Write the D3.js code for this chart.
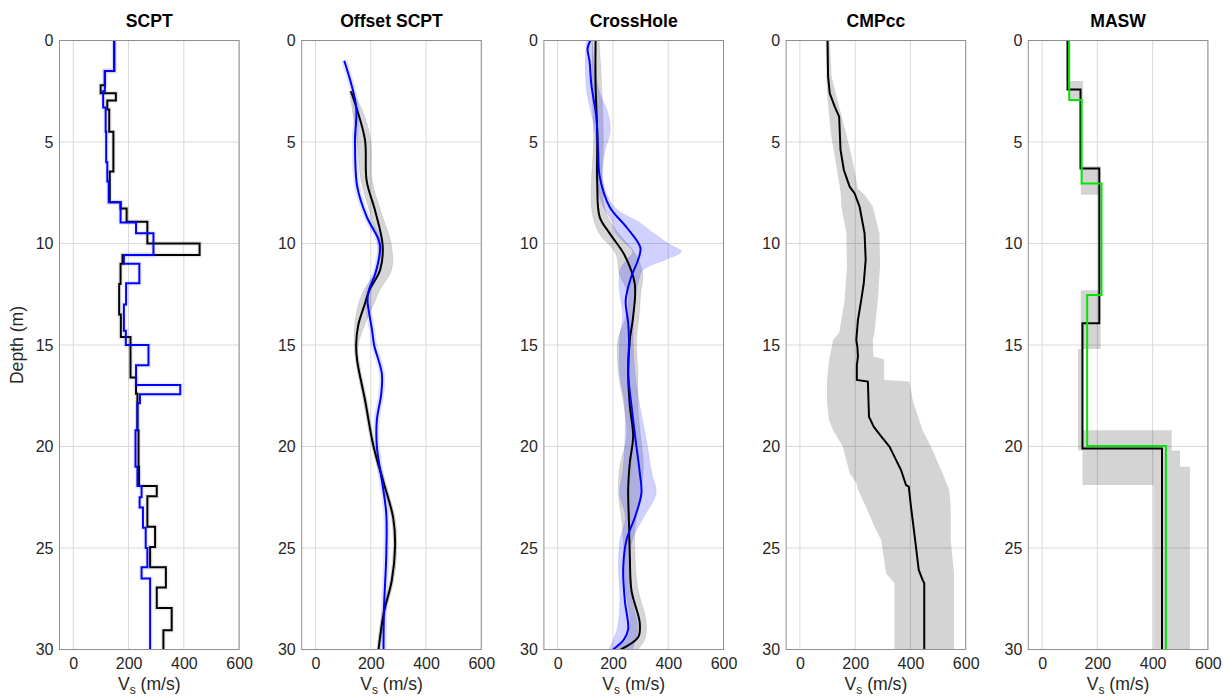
<!DOCTYPE html>
<html><head><meta charset="utf-8">
<script src="https://cdn.jsdelivr.net/npm/d3@7"></script>
<style>
body{margin:0;background:#fff;}
svg{display:block;font-family:"Liberation Sans",Arial,Helvetica,sans-serif;}
</style></head><body>
<svg id="chart" width="1223" height="697"></svg>
<script>
// ---------- axes / labels ----------
const panelTitles = ["SCPT", "Offset SCPT", "CrossHole", "CMPcc", "MASW"];
const xTicks = [0, 200, 400, 600];
const yTicks = [0, 5, 10, 15, 20, 25, 30];
const xDomain = [-50, 600];
const yDomain = [0, 30];
const yLabel = "Depth (m)";

// ---------- SCPT (layered: layer top depth, Vs) ----------
const scptBlackTop = [0, 1.5, 2.2, 2.6, 2.95, 3.4, 4.5, 6.45, 7.97, 8.27, 8.93, 10.0, 10.57, 11.0, 12.0, 13.5, 14.6, 16.6, 17.4, 19.2, 21.0, 21.95, 22.45, 23.95, 24.95, 25.95, 26.95, 27.95, 29.05];
const scptBlackVs  = [148, 114, 99, 154, 123, 130, 145, 132, 171, 193, 268, 457, 178, 171, 166, 172, 207, 227, 232, 236, 238, 302, 268, 296, 278, 335, 302, 356, 326];
const scptBlueTop  = [0, 1.5, 2.5, 3.3, 4.5, 6.0, 6.95, 7.97, 8.97, 9.5, 10.57, 11.0, 11.96, 13.0, 14.3, 15.0, 16.0, 16.97, 17.43, 17.87, 19.2, 21.0, 21.95, 22.5, 23.0, 24.0, 25.0, 25.95, 26.5];
const scptBlueVs   = [148, 114, 108, 117, 119, 123, 128, 171, 227, 290, 183, 239, 191, 183, 190, 272, 227, 387, 241, 232, 225, 232, 247, 240, 252, 262, 268, 247, 278];

// ---------- Offset SCPT (smooth profiles) ----------
const offBlackDepth = [2.5, 3.3, 4.9, 6.9, 8.4, 10.1, 11.3, 12.3, 13.0, 14.0, 15.0, 15.8, 17.7, 20.0, 21.8, 23.5, 24.9, 26.6, 28.2, 30.0];
const offBlackVs    = [128, 148, 179, 185, 216, 243, 234, 195, 178, 155, 147, 151, 179, 210, 247, 281, 288, 276, 247, 228];
const offBlackLo    = [122, 132, 150, 165, 195, 226, 218, 175, 155, 142, 140, 145, 172, 204, 240, 274, 281, 269, 240, 222];
const offBlackHi    = [132, 165, 200, 205, 236, 275, 275, 232, 210, 178, 155, 158, 186, 216, 254, 288, 295, 283, 254, 234];
const offBlueDepth  = [1.0, 3.26, 4.9, 7.2, 8.67, 9.8, 10.2, 11.5, 12.3, 12.8, 13.5, 14.3, 15.0, 16.4, 17.4, 18.7, 20.0, 21.65, 23.3, 25.4, 27.9, 30.0];
const offBlueVs     = [104, 147, 143, 151, 185, 228, 234, 216, 193, 188, 195, 205, 212, 240, 238, 222, 222, 240, 256, 256, 248, 246];

// ---------- CrossHole ----------
const chBlackDepth = [0, 2.2, 4.6, 7.0, 8.7, 9.5, 10.6, 12.0, 13.6, 14.75, 16.4, 18.0, 19.5, 20.8, 22.1, 23.8, 25.4, 27.1, 28.7, 29.4, 30.0];
const chBlackVs    = [137, 137, 143, 143, 152, 188, 243, 279, 273, 261, 255, 261, 273, 261, 255, 258, 261, 267, 297, 291, 228];
const chBlueDepth  = [0, 0.4, 1.0, 2.2, 3.8, 5.4, 6.7, 8.2, 9.2, 10.2, 10.8, 11.6, 12.8, 13.9, 14.75, 16.4, 18.0, 19.7, 21.3, 22.3, 23.5, 24.6, 26.0, 27.6, 29.0, 29.5, 30.0];
const chBlueVs     = [118, 108, 115, 122, 140, 146, 152, 188, 249, 299, 291, 267, 246, 255, 258, 255, 267, 282, 297, 303, 279, 249, 237, 243, 255, 240, 200];
const chGrayBandDepth = [0, 2.5, 5.0, 7.0, 8.5, 9.5, 10.5, 11.5, 12.5, 13.5, 14.75, 16.4, 18.0, 19.5, 21.0, 22.3, 24.0, 25.5, 27.0, 28.7, 29.5, 30.0];
const chGrayBandLo    = [125, 125, 130, 122, 125, 150, 210, 224, 255, 250, 218, 220, 240, 250, 225, 220, 235, 240, 245, 262, 250, 200];
const chGrayBandHi    = [150, 160, 165, 160, 175, 220, 280, 308, 300, 295, 285, 290, 290, 300, 310, 300, 280, 280, 290, 321, 315, 290];
const chBlueBandDepth = [0, 1.0, 2.5, 3.5, 4.5, 5.5, 7.0, 8.2, 9.0, 9.5, 10.0, 10.4, 10.8, 11.3, 12.0, 12.5, 13.5, 14.75, 16.4, 18.0, 19.7, 21.3, 22.3, 23.5, 24.6, 26.0, 27.6, 29.0, 30.0];
const chBlueBandLo    = [105, 100, 105, 120, 135, 140, 140, 165, 200, 210, 245, 272, 250, 225, 222, 225, 235, 224, 225, 243, 243, 235, 224, 245, 225, 220, 225, 215, 185];
const chBlueBandHi    = [125, 130, 150, 180, 190, 170, 165, 205, 300, 347, 400, 447, 390, 309, 290, 280, 275, 273, 280, 297, 321, 340, 356, 310, 270, 260, 270, 290, 270];

// ---------- CMPcc ----------
const cmpDepth = [0, 1.78, 2.6, 3.26, 3.75, 5.39, 6.38, 7.2, 7.53, 8.19, 9.5, 10.81, 11.96, 12.78, 13.77, 14.75, 15.1, 15.57, 16.0, 16.72, 16.8, 18.53, 19.02, 19.5, 20.0, 20.5, 21.16, 21.9, 21.98, 22.97, 23.95, 24.94, 26.08, 26.57, 26.74, 30.0];
const cmpVs    = [100, 102, 108, 126, 142, 147, 159, 180, 198, 216, 234, 238, 231, 222, 210, 204, 208, 210, 206, 206, 246, 250, 267, 294, 324, 342, 366, 384, 394, 402, 411, 420, 430, 444, 450, 450];
const cmpBandDepth = [0, 1.78, 2.9, 4.6, 6.2, 7.3, 7.6, 8.19, 9.5, 11.1, 12.78, 14.4, 14.75, 15.57, 15.7, 16.72, 16.8, 17.8, 18.7, 19.2, 20.0, 21.3, 21.8, 22.1, 23.0, 23.95, 24.6, 26.25, 26.74, 30.0];
const cmpBandLo    = [93, 95, 100, 112, 132, 145, 148, 150, 168, 170, 162, 142, 120, 108, 106, 98, 98, 98, 105, 120, 155, 180, 204, 210, 240, 270, 294, 312, 342, 342];
const cmpBandHi    = [108, 115, 135, 168, 195, 210, 234, 264, 288, 290, 282, 270, 264, 266, 305, 305, 396, 410, 432, 444, 474, 516, 530, 540, 546, 546, 546, 558, 558, 558];

// ---------- MASW (layered) ----------
const maswBlackTop = [0, 2.41, 6.3, 13.93, 20.1];
const maswBlackVs  = [92, 139, 207, 146, 434];
const maswGreenTop = [0, 2.93, 7.04, 12.54, 19.98];
const maswGreenVs  = [98, 143, 215, 163, 448];
const maswBandTop  = [0, 2.0, 3.0, 6.2, 7.6, 12.3, 15.2, 19.2, 20.2, 21.0, 21.9];
const maswBandLo   = [88, 100, 135, 140, 204, 140, 130, 130, 146, 146, 403];
const maswBandHi   = [100, 148, 146, 212, 217, 212, 146, 469, 499, 535, 535];

// ---------- layout ----------
const panelLeft0 = 59.5, panelStep = 242.2, panelW = 179.6;
const plotTop = 40.5, plotBottom = 649.5;
const tickColor = "#262626";
const svg = d3.select("#chart");
const y = d3.scaleLinear().domain(yDomain).range([plotTop, plotBottom]);
const maxDepth = yDomain[1];

function stepPts(tops, vals) {
  const pts = [];
  tops.forEach((t, i) => {
    const b = i < tops.length - 1 ? tops[i + 1] : maxDepth;
    pts.push({d: t, v: vals[i]}); pts.push({d: b, v: vals[i]});
  });
  return pts;
}
function stepBandPts(tops, lo, hi) {
  const pts = [];
  tops.forEach((t, i) => {
    const b = i < tops.length - 1 ? tops[i + 1] : maxDepth;
    pts.push({d: t, lo: lo[i], hi: hi[i]}); pts.push({d: b, lo: lo[i], hi: hi[i]});
  });
  return pts;
}
function pts(depth, vals) { return depth.map((d, i) => ({d, v: vals[i]})); }
function bandPts(depth, lo, hi) { return depth.map((d, i) => ({d, lo: lo[i], hi: hi[i]})); }

panelTitles.forEach((title, pi) => {
  const left = panelLeft0 + pi * panelStep;
  const x = d3.scaleLinear().domain(xDomain).range([left, left + panelW]);
  const g = svg.append("g");
  const clipId = "clip" + pi;
  svg.append("clipPath").attr("id", clipId).append("rect")
    .attr("x", left).attr("y", plotTop).attr("width", panelW).attr("height", plotBottom - plotTop);

  // grid
  g.append("g").selectAll("line").data(xTicks).join("line")
    .attr("x1", d => x(d)).attr("x2", d => x(d)).attr("y1", plotTop).attr("y2", plotBottom)
    .attr("stroke", "#d9d9d9").attr("stroke-width", 1);
  g.append("g").selectAll("line").data(yTicks).join("line")
    .attr("y1", d => y(d)).attr("y2", d => y(d)).attr("x1", left).attr("x2", left + panelW)
    .attr("stroke", "#d9d9d9").attr("stroke-width", 1);

  const data = g.append("g").attr("clip-path", `url(#${clipId})`);
  const lineLin = d3.line().x(p => x(p.v)).y(p => y(p.d));
  const lineSmooth = d3.line().x(p => x(p.v)).y(p => y(p.d)).curve(d3.curveCatmullRom.alpha(0.5));
  const areaLin = d3.area().y(p => y(p.d)).x0(p => x(p.lo)).x1(p => x(p.hi));
  const areaSmooth = d3.area().y(p => y(p.d)).x0(p => x(p.lo)).x1(p => x(p.hi)).curve(d3.curveCatmullRom.alpha(0.5));
  const grayFill = "rgba(0,0,0,0.16)", blueFill = "rgba(0,0,255,0.18)";

  if (pi === 0) {
    data.append("path").attr("d", lineLin(stepPts(scptBlackTop, scptBlackVs)))
      .attr("fill", "none").attr("stroke", "rgba(0,0,0,0.07)").attr("stroke-width", 5);
    data.append("path").attr("d", lineLin(stepPts(scptBlueTop, scptBlueVs)))
      .attr("fill", "none").attr("stroke", "rgba(0,0,255,0.07)").attr("stroke-width", 5);
    data.append("path").attr("d", lineLin(stepPts(scptBlackTop, scptBlackVs)))
      .attr("fill", "none").attr("stroke", "#000").attr("stroke-width", 2);
    data.append("path").attr("d", lineLin(stepPts(scptBlueTop, scptBlueVs)))
      .attr("fill", "none").attr("stroke", "#0000ff").attr("stroke-width", 2);
  } else if (pi === 1) {
    data.append("path").attr("d", areaSmooth(bandPts(offBlackDepth, offBlackLo, offBlackHi)))
      .attr("fill", grayFill).attr("stroke", "rgba(0,0,0,0.12)").attr("stroke-width", 0.8);
    data.append("path").attr("d", lineSmooth(pts(offBlueDepth, offBlueVs)))
      .attr("fill", "none").attr("stroke", "rgba(0,0,255,0.12)").attr("stroke-width", 6);
    data.append("path").attr("d", lineSmooth(pts(offBlackDepth, offBlackVs)))
      .attr("fill", "none").attr("stroke", "#000").attr("stroke-width", 2);
    data.append("path").attr("d", lineSmooth(pts(offBlueDepth, offBlueVs)))
      .attr("fill", "none").attr("stroke", "#0000ff").attr("stroke-width", 2);
  } else if (pi === 2) {
    data.append("path").attr("d", areaSmooth(bandPts(chGrayBandDepth, chGrayBandLo, chGrayBandHi)))
      .attr("fill", grayFill).attr("stroke", "rgba(0,0,0,0.12)").attr("stroke-width", 0.8);
    data.append("path").attr("d", areaSmooth(bandPts(chBlueBandDepth, chBlueBandLo, chBlueBandHi)))
      .attr("fill", blueFill).attr("stroke", "rgba(0,0,255,0.12)").attr("stroke-width", 0.8);
    data.append("path").attr("d", lineSmooth(pts(chBlackDepth, chBlackVs)))
      .attr("fill", "none").attr("stroke", "#000").attr("stroke-width", 2);
    data.append("path").attr("d", lineSmooth(pts(chBlueDepth, chBlueVs)))
      .attr("fill", "none").attr("stroke", "#0000ff").attr("stroke-width", 2);
  } else if (pi === 3) {
    data.append("path").attr("d", areaLin(bandPts(cmpBandDepth, cmpBandLo, cmpBandHi)))
      .attr("fill", "rgba(0,0,0,0.17)");
    data.append("path").attr("d", lineLin(pts(cmpDepth, cmpVs)))
      .attr("fill", "none").attr("stroke", "#000").attr("stroke-width", 2);
  } else {
    data.append("path").attr("d", areaLin(stepBandPts(maswBandTop, maswBandLo, maswBandHi)))
      .attr("fill", "rgba(0,0,0,0.17)");
    data.append("path").attr("d", lineLin(stepPts(maswBlackTop, maswBlackVs)))
      .attr("fill", "none").attr("stroke", "#000").attr("stroke-width", 2);
    data.append("path").attr("d", lineLin(stepPts(maswGreenTop, maswGreenVs)))
      .attr("fill", "none").attr("stroke", "#00e600").attr("stroke-width", 2);
  }

  // box
  g.append("rect").attr("x", left).attr("y", plotTop).attr("width", panelW).attr("height", plotBottom - plotTop)
    .attr("fill", "none").attr("stroke", "#8f8f8f").attr("stroke-width", 1);

  // axes labels via d3 axes
  const ax = g.append("g").attr("transform", `translate(0,${plotBottom})`)
    .call(d3.axisBottom(x).tickValues(xTicks).tickSize(0).tickPadding(8));
  ax.select(".domain").remove();
  ax.selectAll("text").attr("font-size", 16).attr("fill", tickColor).attr("font-family", null);
  const ay = g.append("g").attr("transform", `translate(${left},0)`)
    .call(d3.axisLeft(y).tickValues(yTicks).tickSize(0).tickPadding(6));
  ay.select(".domain").remove();
  ay.selectAll("text").attr("font-size", 16).attr("fill", tickColor).attr("font-family", null);

  // title
  g.append("text").attr("x", left + panelW / 2).attr("y", 27).attr("text-anchor", "middle")
    .attr("font-size", 17.6).attr("font-weight", "bold").attr("fill", "#000").text(title);

  // x label
  const xl = g.append("text").attr("x", left + panelW / 2).attr("y", 689.5).attr("text-anchor", "middle")
    .attr("font-size", 17.6).attr("fill", tickColor);
  xl.append("tspan").text("V");
  xl.append("tspan").attr("dy", 4.5).attr("font-size", 12).text("s");
  xl.append("tspan").attr("dy", -4.5).text(" (m/s)");
});

svg.append("text").attr("transform", `translate(23,345) rotate(-90)`).attr("text-anchor", "middle")
  .attr("font-size", 17.6).attr("fill", tickColor).text(yLabel);
</script>
</body></html>
